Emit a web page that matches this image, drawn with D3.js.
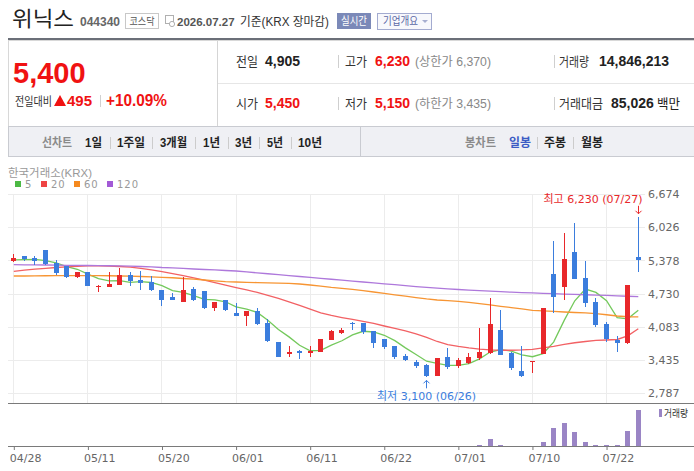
<!DOCTYPE html>
<html>
<head>
<meta charset="utf-8">
<script src="https://cdn.jsdelivr.net/npm/d3@7"></script>
<style>
body { margin: 0; background: #fff; }
svg text { font-family: "Liberation Sans", Arial, "Noto Sans CJK KR", sans-serif; }
</style>
</head>
<body>
<div id="chart"></div>
<script>
// trading days shown on the daily chart
var days = ['04/28','04/29','04/30','05/04','05/06','05/07','05/08','05/11','05/12','05/13',
	'05/14','05/15','05/18','05/19','05/20','05/21','05/22','05/26','05/27','05/28',
	'05/29','06/01','06/02','06/04','06/05','06/08','06/09','06/10','06/11','06/12',
	'06/15','06/16','06/17','06/18','06/19','06/22','06/23','06/24','06/25','06/26',
	'06/29','06/30','07/01','07/02','07/03','07/06','07/07','07/08','07/09','07/10',
	'07/13','07/14','07/15','07/16','07/20','07/21','07/22','07/23','07/24','07/27'];

var opens = [5374,5466,5427,5583,5329,5277,5062,5154,4861,4867,
	4907,5095,4998,4959,4803,4666,4575,4822,4783,4458,
	4608,4361,4302,4394,4166,3790,3564,3608,3562,3601,
	3828,3971,4166,4153,4003,3848,3712,3516,3406,3341,
	3127,3497,3328,3380,3471,3581,4023,3581,3224,3400,
	3555,5115,4867,5550,5037,4569,4140,3828,3770,5450];
var highs = [5505,5470,5466,5590,5388,5280,5160,5160,4900,5154,
	5238,5154,5173,5076,4810,4738,5056,4861,4790,4569,
	4610,4543,4394,4458,4231,3795,3712,3640,3712,3848,
	4023,4062,4170,4166,4005,3850,3715,3562,3438,3354,
	3478,3679,3471,3581,4068,4653,4413,3585,3717,3419,
	4446,5758,5908,6115,5375,4641,4185,3913,4905,6230];
var lows = [5355,5374,5296,5290,5089,5043,5043,4880,4764,4867,
	4907,4887,4809,4783,4497,4594,4575,4594,4438,4399,
	4399,4305,4107,4121,3790,3500,3503,3464,3503,3601,
	3828,3951,4023,3945,3679,3647,3464,3419,3289,3100,
	3127,3270,3270,3361,3439,3569,3540,3230,3115,3191,
	3550,4348,4594,5018,4478,4075,3796,3601,3757,5150];
var closes = [5427,5413,5368,5310,5140,5062,5154,4887,4880,4920,
	5095,4978,4945,4809,4614,4614,4803,4614,4458,4569,
	4419,4309,4394,4140,3809,3503,3601,3575,3608,3848,
	4003,4029,4140,3971,3776,3686,3503,3438,3322,3127,
	3478,3302,3439,3497,3588,4140,3542,3289,3120,3419,
	4446,4661,5407,5031,4556,4127,3842,3776,4905,5400];
var volumes = [95000,80000,70000,130000,90000,85000,75000,110000,60000,120000,
	140000,90000,100000,85000,130000,70000,160000,90000,110000,85000,
	80000,75000,95000,90000,150000,170000,110000,80000,90000,120000,
	100000,70000,85000,80000,95000,90000,110000,80000,90000,150000,
	180000,130000,120000,140000,450000,3000000,420000,150000,180000,120000,
	1650000,7400000,9500000,5800000,1700000,450000,400000,420000,6200000,14846213];

var ma5 = [5388,5393,5401,5374,5332,5259,5207,5111,5025,4981,
	4987,4952,4964,4949,4888,4792,4757,4691,4621,4612,
	4573,4474,4430,4366,4214,4031,3889,3726,3619,3627,
	3727,3813,3926,3998,3984,3920,3815,3675,3545,3415,
	3374,3333,3334,3369,3461,3593,3641,3611,3536,3502,
	3563,3787,4211,4593,4820,4756,4593,4266,4241,4410];
var ma20 = [5167,5189,5208,5226,5241,5255,5265,5271,5271,5269,
	5261,5247,5226,5197,5160,5123,5084,5041,4994,4945,
	4897,4848,4803,4756,4700,4641,4573,4501,4429,4359,
	4306,4265,4228,4189,4150,4101,4053,4004,3945,3877,
	3799,3737,3702,3673,3649,3634,3628,3628,3634,3647,
	3673,3702,3741,3774,3799,3819,3828,3838,3910,4048];
var ma60 = [5076,5076,5078,5080,5082,5084,5084,5084,5082,5080,
	5076,5072,5066,5060,5050,5041,5027,5013,4998,4982,
	4965,4959,4953,4947,4941,4936,4930,4920,4900,4877,
	4854,4836,4813,4789,4764,4737,4709,4682,4655,4628,
	4608,4594,4581,4561,4536,4511,4485,4460,4433,4407,
	4394,4384,4374,4364,4355,4343,4320,4296,4281,4277];
var ma120 = [5296,5294,5292,5290,5288,5284,5282,5280,5279,5275,
	5271,5267,5261,5253,5241,5234,5224,5212,5202,5193,
	5183,5173,5155,5137,5119,5101,5084,5066,5048,5030,
	5012,4995,4977,4959,4941,4924,4906,4888,4870,4853,
	4838,4825,4812,4800,4789,4779,4769,4760,4752,4745,
	4738,4731,4724,4717,4710,4703,4696,4689,4681,4672];

var xTicks = ['04/28','05/11','05/20','06/01','06/11','06/22','07/01','07/10','07/22'];
var yTicks = [2787,3435,4083,4730,5378,6026,6674];
var maNames = ['5','20','60','120'];

var upperLimit = 6370, lowerLimit = 3435, tradeAmount = 85026;

var KR = '"Noto Sans CJK KR", sans-serif';
var NUM = '"DejaVu Sans", "Noto Sans CJK KR", sans-serif';
var RED = '#e8282b', BLUE = '#3b7ddd';
var fmt = d3.format(',');

var svg = d3.select('#chart').append('svg')
	.attr('width', 694)
	.attr('height', 471);

// o.w squeezes the text to the width it has in the reference (hangul glyphs are narrower there)
function label(x, y, s, o) {
	o = o || {};
	var t = svg.append('text')
		.attr('x', x)
		.attr('y', y)
		.attr('font-size', o.size || 12)
		.attr('font-weight', o.weight || 'normal')
		.attr('fill', o.color || '#333')
		.attr('text-anchor', o.anchor || 'start')
		.text(s);
	if (o.font) t.style('font-family', o.font);
	if (o.w) t.attr('textLength', o.w).attr('lengthAdjust', 'spacingAndGlyphs');
	return t;
}

function hline(x1, x2, y, c) {
	svg.append('line').attr('x1', x1).attr('x2', x2).attr('y1', y).attr('y2', y).attr('stroke', c);
}
function vline(x, y1, y2, c) {
	svg.append('line').attr('x1', x).attr('x2', x).attr('y1', y1).attr('y2', y2).attr('stroke', c);
}

/* title row */
label(12, 26, '위닉스', {size: 21, color: '#222', font: KR, w: 62});
label(80, 26, '044340', {size: 12, weight: 'bold', color: '#666'});
svg.append('rect').attr('x', 125.5).attr('y', 13.5).attr('width', 33).attr('height', 15)
	.attr('fill', '#fff').attr('stroke', '#c8c8c8');
label(142, 25, '코스닥', {size: 10, color: '#555', anchor: 'middle', font: KR, w: 25});
svg.append('rect').attr('x', 165.5).attr('y', 15.5).attr('width', 8).attr('height', 8)
	.attr('fill', 'none').attr('stroke', '#b0b0b0');
svg.append('circle').attr('cx', 172).attr('cy', 24).attr('r', 2.6)
	.attr('fill', '#fff').attr('stroke', '#b0b0b0');
label(177, 26, '2026.07.27', {size: 11.5, weight: 'bold', color: '#555'});
label(240, 26, '기준(KRX 장마감)', {size: 12, color: '#333', w: 89});
svg.append('rect').attr('x', 337).attr('y', 13).attr('width', 34).attr('height', 16).attr('fill', '#7b89b8');
label(354, 25, '실시간', {size: 11, color: '#fff', anchor: 'middle', font: KR, w: 26});
svg.append('rect').attr('x', 377.5).attr('y', 13.5).attr('width', 54).attr('height', 16)
	.attr('fill', '#f7f8fc').attr('stroke', '#a3abd0');
label(383, 25, '기업개요', {size: 11, color: '#5b68a5', font: KR, w: 35});
svg.append('path').attr('d', 'M422,20 L428,20 L425,23 Z').attr('fill', '#a6aed0');
svg.append('rect').attr('x', 8).attr('y', 38).attr('width', 686).attr('height', 3).attr('fill', '#6b6f78');

/* quote panel */
var last = closes.length - 1;
var change = closes[last] - closes[last - 1];
svg.append('rect').attr('x', 8.5).attr('y', 40.5).attr('width', 690).attr('height', 86)
	.attr('fill', '#fff').attr('stroke', '#d8d8d8');
vline(217.5, 41, 126, '#d5d5d5');
hline(218, 694, 83.5, '#e6e6e6');

label(13, 83, fmt(closes[last]), {size: 29, weight: 'bold', color: '#f01212'});
label(15, 106, '전일대비', {size: 12, color: '#333', font: KR, w: 37});
svg.append('path').attr('d', 'M54,106 L60,95 L66,106 Z').attr('fill', '#f01212');
label(67, 106, fmt(change), {size: 15, weight: 'bold', color: '#f01212'});
vline(100.5, 95, 107, '#d0d0d0');
label(106, 106, '+' + (change / closes[last - 1] * 100).toFixed(2) + '%', {size: 16, weight: 'bold', color: '#f01212', w: 61});

var rows = [66, 108];
label(236, rows[0], '전일', {size: 13, color: '#333', font: KR, w: 22});
label(265, rows[0], fmt(closes[last - 1]), {size: 14, weight: 'bold', color: '#222'});
vline(338.5, 55, 68, '#cfcfcf');
label(345, rows[0], '고가', {size: 13, color: '#333', font: KR, w: 22});
label(375, rows[0], fmt(highs[last]), {size: 14, weight: 'bold', color: '#f01212'});
label(415, rows[0], '(상한가 ' + fmt(upperLimit) + ')', {size: 12, color: '#888', w: 76});
vline(554.5, 55, 68, '#cfcfcf');
label(559, rows[0], '거래량', {size: 13, color: '#333', font: KR, w: 30});
label(599, rows[0], fmt(volumes[last]), {size: 14, weight: 'bold', color: '#222'});

label(236, rows[1], '시가', {size: 13, color: '#333', font: KR, w: 22});
label(265, rows[1], fmt(opens[last]), {size: 14, weight: 'bold', color: '#f01212'});
vline(338.5, 97, 110, '#cfcfcf');
label(345, rows[1], '저가', {size: 13, color: '#333', font: KR, w: 22});
label(375, rows[1], fmt(lows[last]), {size: 14, weight: 'bold', color: '#f01212'});
label(415, rows[1], '(하한가 ' + fmt(lowerLimit) + ')', {size: 12, color: '#888', w: 76});
vline(554.5, 97, 110, '#cfcfcf');
label(559, rows[1], '거래대금', {size: 13, color: '#333', font: KR, w: 44});
label(611, rows[1], fmt(tradeAmount), {size: 14, weight: 'bold', color: '#222'});
label(657, rows[1], '백만', {size: 13, color: '#222', font: KR, w: 23});

/* period tabs */
svg.append('rect').attr('x', 8.5).attr('y', 126.5).attr('width', 690).attr('height', 30)
	.attr('fill', '#eff0f4').attr('stroke', '#c9cbd1');
vline(360.5, 127, 156, '#c9cbd1');
var tabY = 147;
label(42, tabY, '선차트', {size: 12.5, weight: 'bold', color: '#8a8a8a', font: KR, w: 30});
var tabs = [['1일', 85, 17], ['1주일', 117, 28], ['3개월', 160, 27], ['1년', 203, 17], ['3년', 235, 17], ['5년', 267, 16], ['10년', 298, 24]];
var seps = [110.5, 152.5, 195.5, 228.5, 259.5, 291.5];
tabs.forEach(function(t, i) {
	label(t[1], tabY, t[0], {size: 12.5, weight: 'bold', color: '#222', w: t[2]});
	if (i < seps.length) vline(seps[i], 137, 149, '#cccccc');
});
label(465, tabY, '봉차트', {size: 12.5, weight: 'bold', color: '#8a8a8a', font: KR, w: 31});
label(509, tabY, '일봉', {size: 12.5, weight: 'bold', color: '#3b5cc4', font: KR, w: 22});
vline(537.5, 137, 149, '#cccccc');
label(544, tabY, '주봉', {size: 12.5, weight: 'bold', color: '#222', font: KR, w: 22});
vline(573.5, 137, 149, '#cccccc');
label(581, tabY, '월봉', {size: 12.5, weight: 'bold', color: '#222', font: KR, w: 22});

/* chart */
var x = d3.scalePoint().domain(days).range([13.3, 637.8]);
var y = d3.scaleLinear().domain([2787, 6674]).range([393.4, 194]);
var vy = d3.scaleLinear().domain([0, d3.max(volumes) * 1.194]).range([446, 403]);

var maColors = ['#74c95c', '#f26164', '#f79533', '#ae78db'];
var legendColors = ['#4cb944', '#ee4444', '#f5891e', '#a35ad6'];

label(8, 177, '한국거래소(KRX)', {size: 11.5, color: '#999', w: 84});
var lx = [15, 41, 74, 107];
maNames.forEach(function(n, i) {
	svg.append('rect').attr('x', lx[i]).attr('y', 181).attr('width', 6).attr('height', 6).attr('fill', legendColors[i]);
	label(lx[i] + 10, 188, n, {size: 10, color: '#999', font: NUM}).attr('letter-spacing', 1);
});

var grid = svg.append('g').attr('stroke', '#ececec');
grid.selectAll('.hy').data(yTicks).join('line')
	.attr('x1', 8).attr('x2', 645)
	.attr('y1', function(d) {return Math.round(y(d)) + 0.5;})
	.attr('y2', function(d) {return Math.round(y(d)) + 0.5;});
grid.selectAll('.vx').data(xTicks).join('line')
	.attr('x1', function(d) {return Math.round(x(d)) + 0.5;})
	.attr('x2', function(d) {return Math.round(x(d)) + 0.5;})
	.attr('y1', 194).attr('y2', 403);

var yAxis = svg.append('g')
	.attr('transform', 'translate(645,0)')
	.call(d3.axisRight(y).tickValues(yTicks).tickFormat(fmt).tickSize(0).tickPadding(3));
yAxis.select('.domain').remove();
yAxis.selectAll('text').attr('fill', '#666').attr('font-size', 11).style('font-family', NUM);

// moving averages, under the candles
[ma5, ma20, ma60, ma120].forEach(function(arr, k) {
	svg.append('path')
		.datum(arr)
		.attr('fill', 'none')
		.attr('stroke', maColors[k])
		.attr('stroke-width', 1.3)
		.attr('d', d3.line()
			.x(function(d, i) {return x(days[i]) + 0.5;})
			.y(function(d) {return y(d);}));
});

function candleColor(i) {if (closes[i] >= opens[i]) return RED; return BLUE;}

var candles = svg.append('g').attr('shape-rendering', 'crispEdges');
candles.selectAll('.wick').data(days).join('rect')
	.attr('x', function(d) {return Math.round(x(d));})
	.attr('y', function(d, i) {return Math.round(y(highs[i]));})
	.attr('width', 1)
	.attr('height', function(d, i) {return Math.max(1, Math.round(y(lows[i]) - y(highs[i])));})
	.attr('fill', function(d, i) {return candleColor(i);});
candles.selectAll('.body').data(days).join('rect')
	.attr('x', function(d) {return Math.round(x(d)) - 2;})
	.attr('y', function(d, i) {return Math.round(y(Math.max(opens[i], closes[i])));})
	.attr('width', 5)
	.attr('height', function(d, i) {return Math.max(1, Math.round(Math.abs(y(opens[i]) - y(closes[i]))));})
	.attr('fill', function(d, i) {return candleColor(i);});

// high / low markers
var hi = d3.maxIndex(highs), lo = d3.minIndex(lows);
var hx = Math.round(x(days[hi])) + 0.5, hy = y(highs[hi]);
svg.append('path')
	.attr('d', 'M' + hx + ',' + (hy - 11) + 'V' + (hy - 3) + 'M' + (hx - 3) + ',' + (hy - 6) + 'L' + hx + ',' + (hy - 3) + 'L' + (hx + 3) + ',' + (hy - 6))
	.attr('fill', 'none').attr('stroke', RED);
label(hx + 4, hy - 14, '최고 ' + fmt(highs[hi]) + ' (' + days[hi] + ')', {size: 11, color: RED, anchor: 'end', font: NUM});
var lx0 = Math.round(x(days[lo])) + 0.5, ly0 = y(lows[lo]);
svg.append('path')
	.attr('d', 'M' + lx0 + ',' + (ly0 + 11) + 'V' + (ly0 + 3) + 'M' + (lx0 - 3) + ',' + (ly0 + 6) + 'L' + lx0 + ',' + (ly0 + 3) + 'L' + (lx0 + 3) + ',' + (ly0 + 6))
	.attr('fill', 'none').attr('stroke', BLUE);
label(lx0, ly0 + 23, '최저 ' + fmt(lows[lo]) + ' (' + days[lo] + ')', {size: 11, color: BLUE, anchor: 'middle', font: NUM});

/* volume */
hline(8, 694, 403.5, '#7a7a7a');
svg.append('g').attr('shape-rendering', 'crispEdges')
	.selectAll('rect').data(volumes).join('rect')
	.attr('x', function(d, i) {return Math.round(x(days[i])) - 2;})
	.attr('width', 5)
	.attr('y', function(d) {return 446 - Math.round(446 - vy(d));})
	.attr('height', function(d) {return Math.round(446 - vy(d));})
	.attr('fill', '#9a85c5');
svg.append('rect').attr('x', 659).attr('y', 409).attr('width', 3).attr('height', 8).attr('fill', '#9a85c5');
label(664, 417, '거래량', {size: 10.5, color: '#333', font: KR, w: 24});

var xAxis = svg.append('g')
	.attr('transform', 'translate(0,446)')
	.call(d3.axisBottom(x).tickValues(xTicks).tickSize(4).tickPadding(4));
xAxis.select('.domain').remove();
xAxis.selectAll('line').attr('stroke', '#777').attr('transform', 'translate(0.5,0)');
xAxis.selectAll('text').attr('fill', '#666').attr('font-size', 11).attr('text-anchor', 'start').attr('x', -4).style('font-family', NUM);
hline(8, 694, 446.5, '#7a7a7a');
</script>
</body>
</html>
